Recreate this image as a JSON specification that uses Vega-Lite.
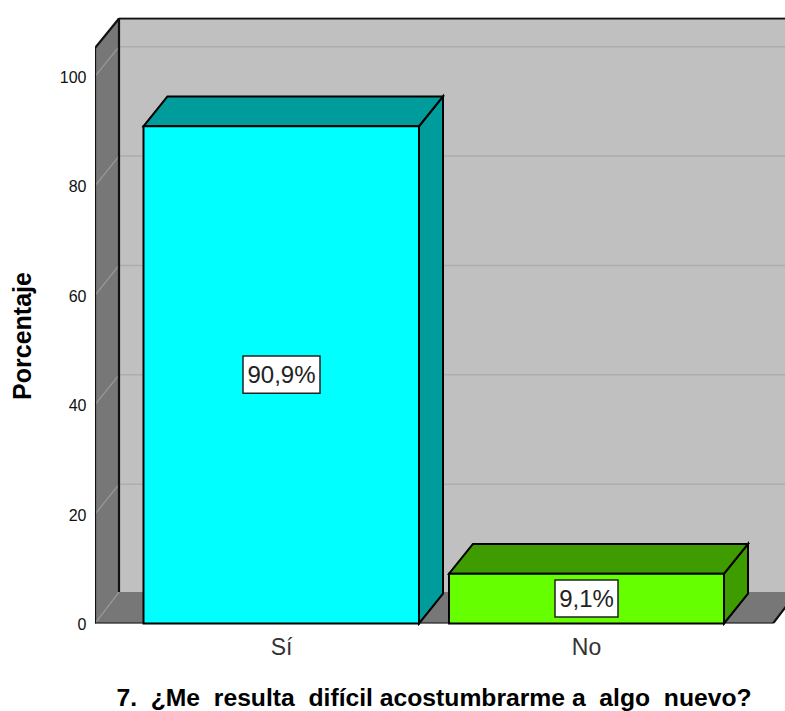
{"$schema":"https://vega.github.io/schema/vega-lite/v6.json","width":690,"height":606,"autosize":"none","padding":{"left":95,"top":17.5,"right":0,"bottom":87.5},"background":"#ffffff","config":{"view":{"stroke":null},"font":"Liberation Sans"},"encoding":{"x":{"field":"x","type":"quantitative","scale":{"domain":[0,690],"nice":false,"zero":false},"axis":{"values":[186,491],"labelExpr":"datum.value < 300 ? 'Sí' : 'No'","grid":false,"domain":false,"ticks":false,"labelFontSize":23,"labelColor":"#333333","labelPadding":13,"labelFont":"Liberation Sans","title":"7.\u00a0\u00a0¿Me\u00a0\u00a0resulta\u00a0\u00a0difícil acostumbrarme a\u00a0\u00a0algo\u00a0\u00a0nuevo?","titleFontSize":24.7,"titleFontWeight":"bold","titleFont":"Liberation Sans","titleColor":"#000000","titleX":338.5,"titleY":75,"titleBaseline":"middle"}},"y":{"field":"y","type":"quantitative","scale":{"domain":[0,110.78],"nice":false,"zero":false},"axis":{"values":[0,20,40,60,80,100],"grid":false,"domain":false,"ticks":false,"labelFontSize":16,"labelColor":"#111111","labelPadding":9,"labelOffset":1,"labelFont":"Liberation Sans","title":"Porcentaje","titleFontSize":25,"titleFontWeight":"bold","titleFont":"Liberation Sans","titleColor":"#000000","titleX":-73,"titleY":318,"titleBaseline":"middle"}}},"layer":[{"data":{"values":[{"x":24,"x2":690,"y":5.75,"y2":110.78}]},"mark":{"type":"rect","fill":"#c0c0c0"},"encoding":{"x2":{"field":"x2"},"y2":{"field":"y2"}}},{"data":{"values":[{"x":24,"x2":690,"y":25.45,"y2":25.45},{"x":24,"x2":690,"y":45.45,"y2":45.45},{"x":24,"x2":690,"y":65.45,"y2":65.45},{"x":24,"x2":690,"y":85.45,"y2":85.45},{"x":24,"x2":690,"y":105.45,"y2":105.45}]},"mark":{"type":"rule","stroke":"#adadad","strokeWidth":1.5},"encoding":{"x2":{"field":"x2"},"y2":{"field":"y2"}}},{"data":{"values":[{"x":0,"x2":678,"y":0},{"x":24,"x2":702,"y":5.75}]},"mark":{"type":"area","orient":"horizontal","fill":"#777777","clip":true},"encoding":{"x2":{"field":"x2"}}},{"data":{"values":[{"x":0,"y":0,"y2":105.2},{"x":24,"y":5.75,"y2":110.78}]},"mark":{"type":"area","fill":"#777777"},"encoding":{"y2":{"field":"y2"}}},{"data":{"values":[{"x":0,"x2":24,"y":0,"y2":5.75},{"x":0,"x2":24,"y":20,"y2":25.45},{"x":0,"x2":24,"y":40,"y2":45.45},{"x":0,"x2":24,"y":60,"y2":65.45},{"x":0,"x2":24,"y":80,"y2":85.45},{"x":0,"x2":24,"y":100,"y2":105.45}]},"mark":{"type":"rule","stroke":"#9a9a9a","strokeWidth":1.2},"encoding":{"x2":{"field":"x2"},"y2":{"field":"y2"}}},{"data":{"values":[{"x":0,"x2":0,"y":0,"y2":105.2},{"x":0,"x2":24,"y":105.2,"y2":110.6},{"x":24,"x2":690,"y":110.6,"y2":110.6},{"x":24,"x2":24,"y":5.75,"y2":110.6},{"x":0,"x2":678,"y":0,"y2":0},{"x":678,"x2":702,"y":0,"y2":5.75}]},"mark":{"type":"rule","stroke":"#111111","strokeWidth":2.2,"clip":true},"encoding":{"x2":{"field":"x2"},"y2":{"field":"y2"}}},{"data":{"values":[{"x":324,"y":0,"y2":90.9},{"x":348,"y":5.45,"y2":96.35}]},"mark":{"type":"area","fill":"#009c9c","stroke":"#000000","strokeWidth":2},"encoding":{"y2":{"field":"y2"}}},{"data":{"values":[{"x":48.5,"x2":324,"y":90.9},{"x":72.5,"x2":348,"y":96.35}]},"mark":{"type":"area","orient":"horizontal","fill":"#009c9c","stroke":"#000000","strokeWidth":2},"encoding":{"x2":{"field":"x2"}}},{"data":{"values":[{"cat":"Sí","x":48.5,"x2":324,"y":90.9,"y2":0}]},"mark":{"type":"rect","fill":"#00ffff","stroke":"#000000","strokeWidth":2},"encoding":{"x2":{"field":"x2"},"y2":{"field":"y2"}}},{"data":{"values":[{"x":629,"y":0,"y2":9.1},{"x":653,"y":5.45,"y2":14.55}]},"mark":{"type":"area","fill":"#3e9c00","stroke":"#000000","strokeWidth":2},"encoding":{"y2":{"field":"y2"}}},{"data":{"values":[{"x":354,"x2":629,"y":9.1},{"x":378,"x2":653,"y":14.55}]},"mark":{"type":"area","orient":"horizontal","fill":"#3e9c00","stroke":"#000000","strokeWidth":2},"encoding":{"x2":{"field":"x2"}}},{"data":{"values":[{"cat":"No","x":354,"x2":629,"y":9.1,"y2":0}]},"mark":{"type":"rect","fill":"#66ff00","stroke":"#000000","strokeWidth":2},"encoding":{"x2":{"field":"x2"},"y2":{"field":"y2"}}},{"data":{"values":[{"x":148,"x2":225,"y":42.1,"y2":48.9},{"x":460,"x2":523,"y":1.2,"y2":7.95}]},"mark":{"type":"rect","fill":"#ffffff","stroke":"#222222","strokeWidth":1.5},"encoding":{"x2":{"field":"x2"},"y2":{"field":"y2"}}},{"data":{"values":[{"x":186.5,"y":45.5,"label":"90,9%"},{"x":491.5,"y":4.55,"label":"9,1%"}]},"mark":{"type":"text","fontSize":24,"dy":1.5,"font":"Liberation Sans","color":"#222222","align":"center","baseline":"middle"},"encoding":{"text":{"field":"label"}}}]}
